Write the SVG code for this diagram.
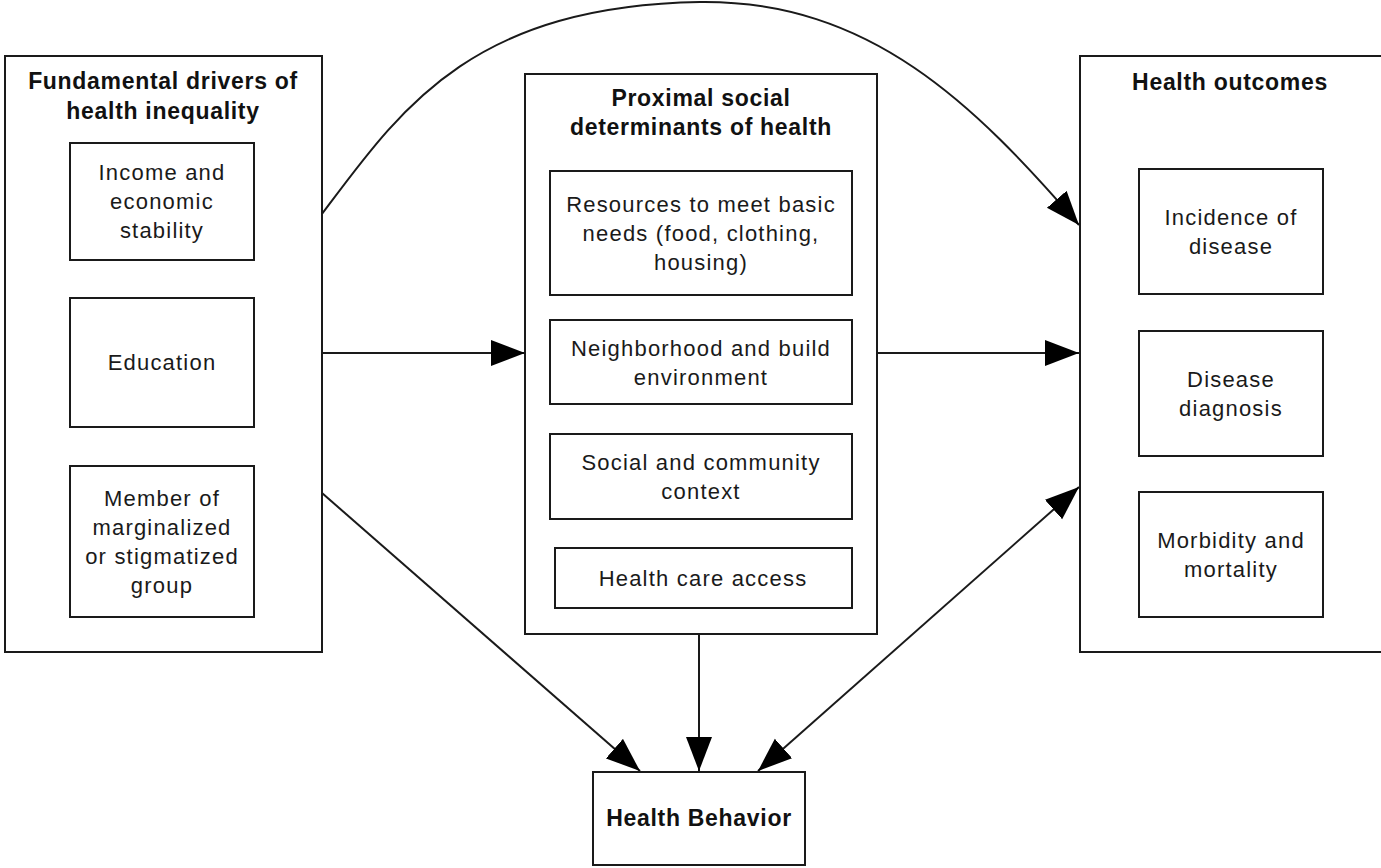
<svg xmlns="http://www.w3.org/2000/svg" width="1381" height="868" viewBox="0 0 1381 868">
<defs>
<style>
.box{fill:none;stroke:#1a1a1a;stroke-width:2}
.t{font-family:"Liberation Sans",Arial,sans-serif;font-size:22px;letter-spacing:1.2px;fill:#1a1a1a;text-anchor:middle}
.b{font-family:"Liberation Sans",Arial,sans-serif;font-size:23px;font-weight:bold;letter-spacing:0.7px;fill:#111;text-anchor:middle}
.c{fill:none;stroke:#1a1a1a;stroke-width:2}
</style>
<marker id="ah" markerUnits="userSpaceOnUse" markerWidth="35" markerHeight="27" refX="34" refY="13" orient="auto-start-reverse" viewBox="0 0 35 27">
<path d="M0,0 L34,13 L0,26 z" fill="#000"/>
</marker>
</defs>
<rect width="1381" height="868" fill="#fff"/>

<g id="fundamental">
<rect class="box" x="5" y="56" width="317" height="596"/>
<text class="b" x="163" y="89">Fundamental drivers of</text>
<text class="b" x="163" y="119">health inequality</text>
<g id="income">
<rect class="box" x="70" y="143" width="184" height="117"/>
<text class="t" x="162" y="180">Income and</text>
<text class="t" x="162" y="209">economic</text>
<text class="t" x="162" y="238">stability</text>
</g>
<g id="education">
<rect class="box" x="70" y="298" width="184" height="129"/>
<text class="t" x="162" y="370">Education</text>
</g>
<g id="marginalized">
<rect class="box" x="70" y="466" width="184" height="151"/>
<text class="t" x="162" y="506">Member of</text>
<text class="t" x="162" y="535">marginalized</text>
<text class="t" x="162" y="564">or stigmatized</text>
<text class="t" x="162" y="593">group</text>
</g>
</g>

<g id="proximal">
<rect class="box" x="525" y="74" width="352" height="560"/>
<text class="b" x="701" y="106">Proximal social</text>
<text class="b" x="701" y="135">determinants of health</text>
<g id="resources">
<rect class="box" x="550" y="171" width="302" height="124"/>
<text class="t" x="701" y="212">Resources to meet basic</text>
<text class="t" x="701" y="241">needs (food, clothing,</text>
<text class="t" x="701" y="270">housing)</text>
</g>
<g id="neighborhood">
<rect class="box" x="550" y="320" width="302" height="84"/>
<text class="t" x="701" y="356">Neighborhood and build</text>
<text class="t" x="701" y="385">environment</text>
</g>
<g id="social">
<rect class="box" x="550" y="434" width="302" height="85"/>
<text class="t" x="701" y="470">Social and community</text>
<text class="t" x="701" y="499">context</text>
</g>
<g id="healthcare">
<rect class="box" x="555" y="548" width="297" height="60"/>
<text class="t" x="703" y="586">Health care access</text>
</g>
</g>

<g id="outcomes">
<rect class="box" x="1080" y="56" width="302" height="596"/>
<text class="b" x="1230" y="90">Health outcomes</text>
<g id="incidence">
<rect class="box" x="1139" y="169" width="184" height="125"/>
<text class="t" x="1231" y="225">Incidence of</text>
<text class="t" x="1231" y="254">disease</text>
</g>
<g id="diagnosis">
<rect class="box" x="1139" y="331" width="184" height="125"/>
<text class="t" x="1231" y="387">Disease</text>
<text class="t" x="1231" y="416">diagnosis</text>
</g>
<g id="morbidity">
<rect class="box" x="1139" y="492" width="184" height="125"/>
<text class="t" x="1231" y="548">Morbidity and</text>
<text class="t" x="1231" y="577">mortality</text>
</g>
</g>

<g id="behavior">
<rect class="box" x="593" y="772" width="212" height="93"/>
<text class="b" x="699" y="826">Health Behavior</text>
</g>

<g id="connectors">
<path class="c" d="M322,214 C400,110 470,6 700,2 C870,0 975,105 1079,225" marker-end="url(#ah)"/>
<path class="c" d="M322,353 L525,353" marker-end="url(#ah)"/>
<path class="c" d="M877,353 L1079,353" marker-end="url(#ah)"/>
<path class="c" d="M322,493 L640,771" marker-end="url(#ah)"/>
<path class="c" d="M699,634 L699,771" marker-end="url(#ah)"/>
<path class="c" d="M1079,487 L758,771" marker-start="url(#ah)" marker-end="url(#ah)"/>
</g>
</svg>
